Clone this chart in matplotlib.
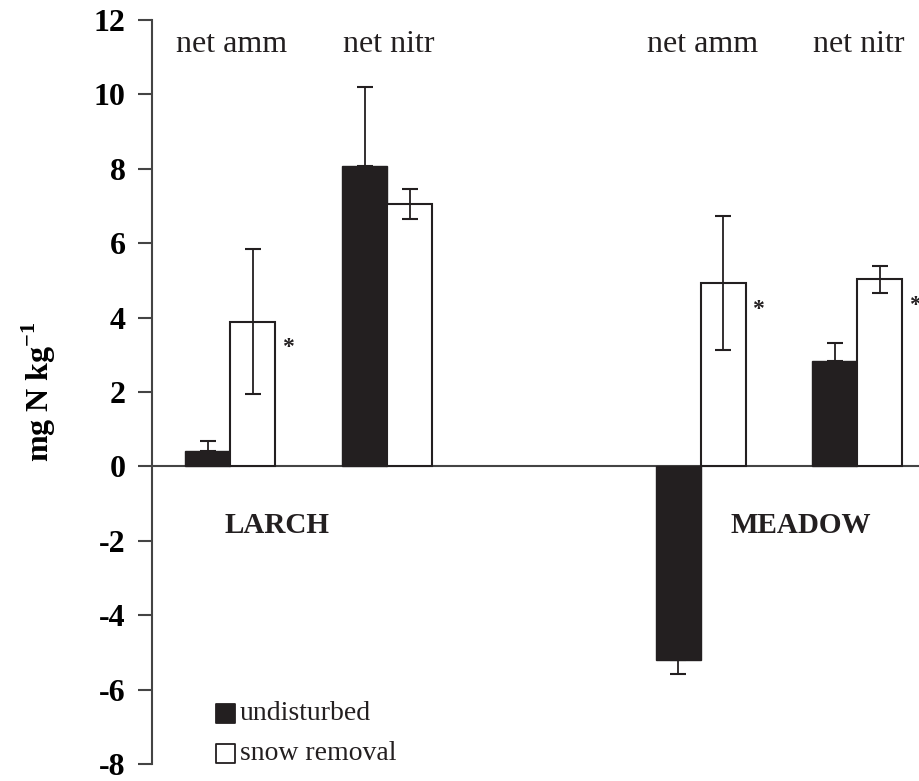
import matplotlib.pyplot as plt
import numpy as np

plt.rcParams['font.family'] = 'Liberation Serif'
plt.rcParams['axes.unicode_minus'] = False
plt.rcParams['mathtext.fontset'] = 'custom'
plt.rcParams['mathtext.rm'] = 'Liberation Serif'
plt.rcParams['mathtext.bf'] = 'Liberation Serif:bold'

# Net mineralisation values (mg N per kg), two sites x two processes
groups = ['net amm', 'net nitr', '', 'net amm', 'net nitr']
undisturbed = [0.42, 8.08, np.nan, -5.21, 2.82]
undisturbed_err = [0.27, 2.13, np.nan, 0.38, 0.49]
snow_removal = [3.89, 7.06, np.nan, 4.92, 5.03]
snow_removal_err = [1.95, 0.41, np.nan, 1.80, 0.37]
significant = [True, False, False, True, True]
sites = ['LARCH', 'MEADOW']

ink = '#231f20'
fig = plt.figure(figsize=(9.2, 7.81), dpi=100)
ax = fig.add_axes([152 / 920, 17 / 781, 1 - 152 / 920, 744 / 781])

x = np.arange(len(groups))
w = 0.287

und = np.array(undisturbed)
und_err = np.array(undisturbed_err)
# black bars only show the whisker pointing away from zero
und_yerr = [np.where(und < 0, und_err, 0), np.where(und >= 0, und_err, 0)]

ax.bar(x - w / 2, und, w, color=ink, edgecolor=ink, linewidth=1.0, zorder=3)
ax.bar(x + w / 2, snow_removal, w, color='white', edgecolor=ink, linewidth=1.5, zorder=3)
ax.errorbar(x - w / 2, und, yerr=und_yerr, fmt='none', ecolor=ink,
            elinewidth=1.3, capsize=5.5, capthick=1.5, zorder=4)
ax.errorbar(x + w / 2, snow_removal, yerr=snow_removal_err, fmt='none', ecolor=ink,
            elinewidth=1.3, capsize=5.5, capthick=1.5, zorder=4)

ax.axhline(0, color='#444444', linewidth=1.5, zorder=2)

for xi, s, sig in zip(x, snow_removal, significant):
    if sig:
        ax.text(xi + w + 0.08, s - 0.7, '*', ha='center', va='center',
                fontsize=17, fontweight='bold', color=ink, zorder=6)

for xi, g in zip(x, groups):
    ax.text(xi + 0.01, 11.33, g, ha='center', va='center', fontsize=23, color=ink)

ax.text(0.30, -1.6, sites[0], ha='center', va='center', fontsize=21,
        fontweight='bold', color=ink, zorder=6)
ax.text(3.64, -1.6, sites[1], ha='center', va='center', fontsize=21,
        fontweight='bold', color=ink, zorder=6)

# legend drawn as squares plus labels
ax.scatter([-0.03, -0.03], [-6.65, -7.72], marker='s', s=190,
           c=[ink, 'white'], edgecolors=ink, linewidths=1.3, clip_on=False, zorder=5)
ax.text(0.06, -6.65, 'undisturbed', va='center', fontsize=20, color=ink)
ax.text(0.06, -7.72, 'snow removal', va='center', fontsize=20, color=ink)

ax.set_xlim(-0.5, 4.40)
ax.set_ylim(-8, 12)
ax.set_yticks(np.arange(-8, 13, 2))
ax.set_xticks([])
for lbl in ax.get_yticklabels():
    lbl.set_fontweight('bold')
ax.tick_params(axis='y', labelsize=23, length=10, width=1.5, color='#444444', pad=9)
for side in ['top', 'right', 'bottom']:
    ax.spines[side].set_visible(False)
ax.spines['left'].set_linewidth(1.5)
ax.spines['left'].set_color('#444444')

ax.set_ylabel('mg N kg$^{\\mathbf{-1}}$', fontsize=23, fontweight='bold', labelpad=26)

fig.savefig('out.png', dpi=100)
